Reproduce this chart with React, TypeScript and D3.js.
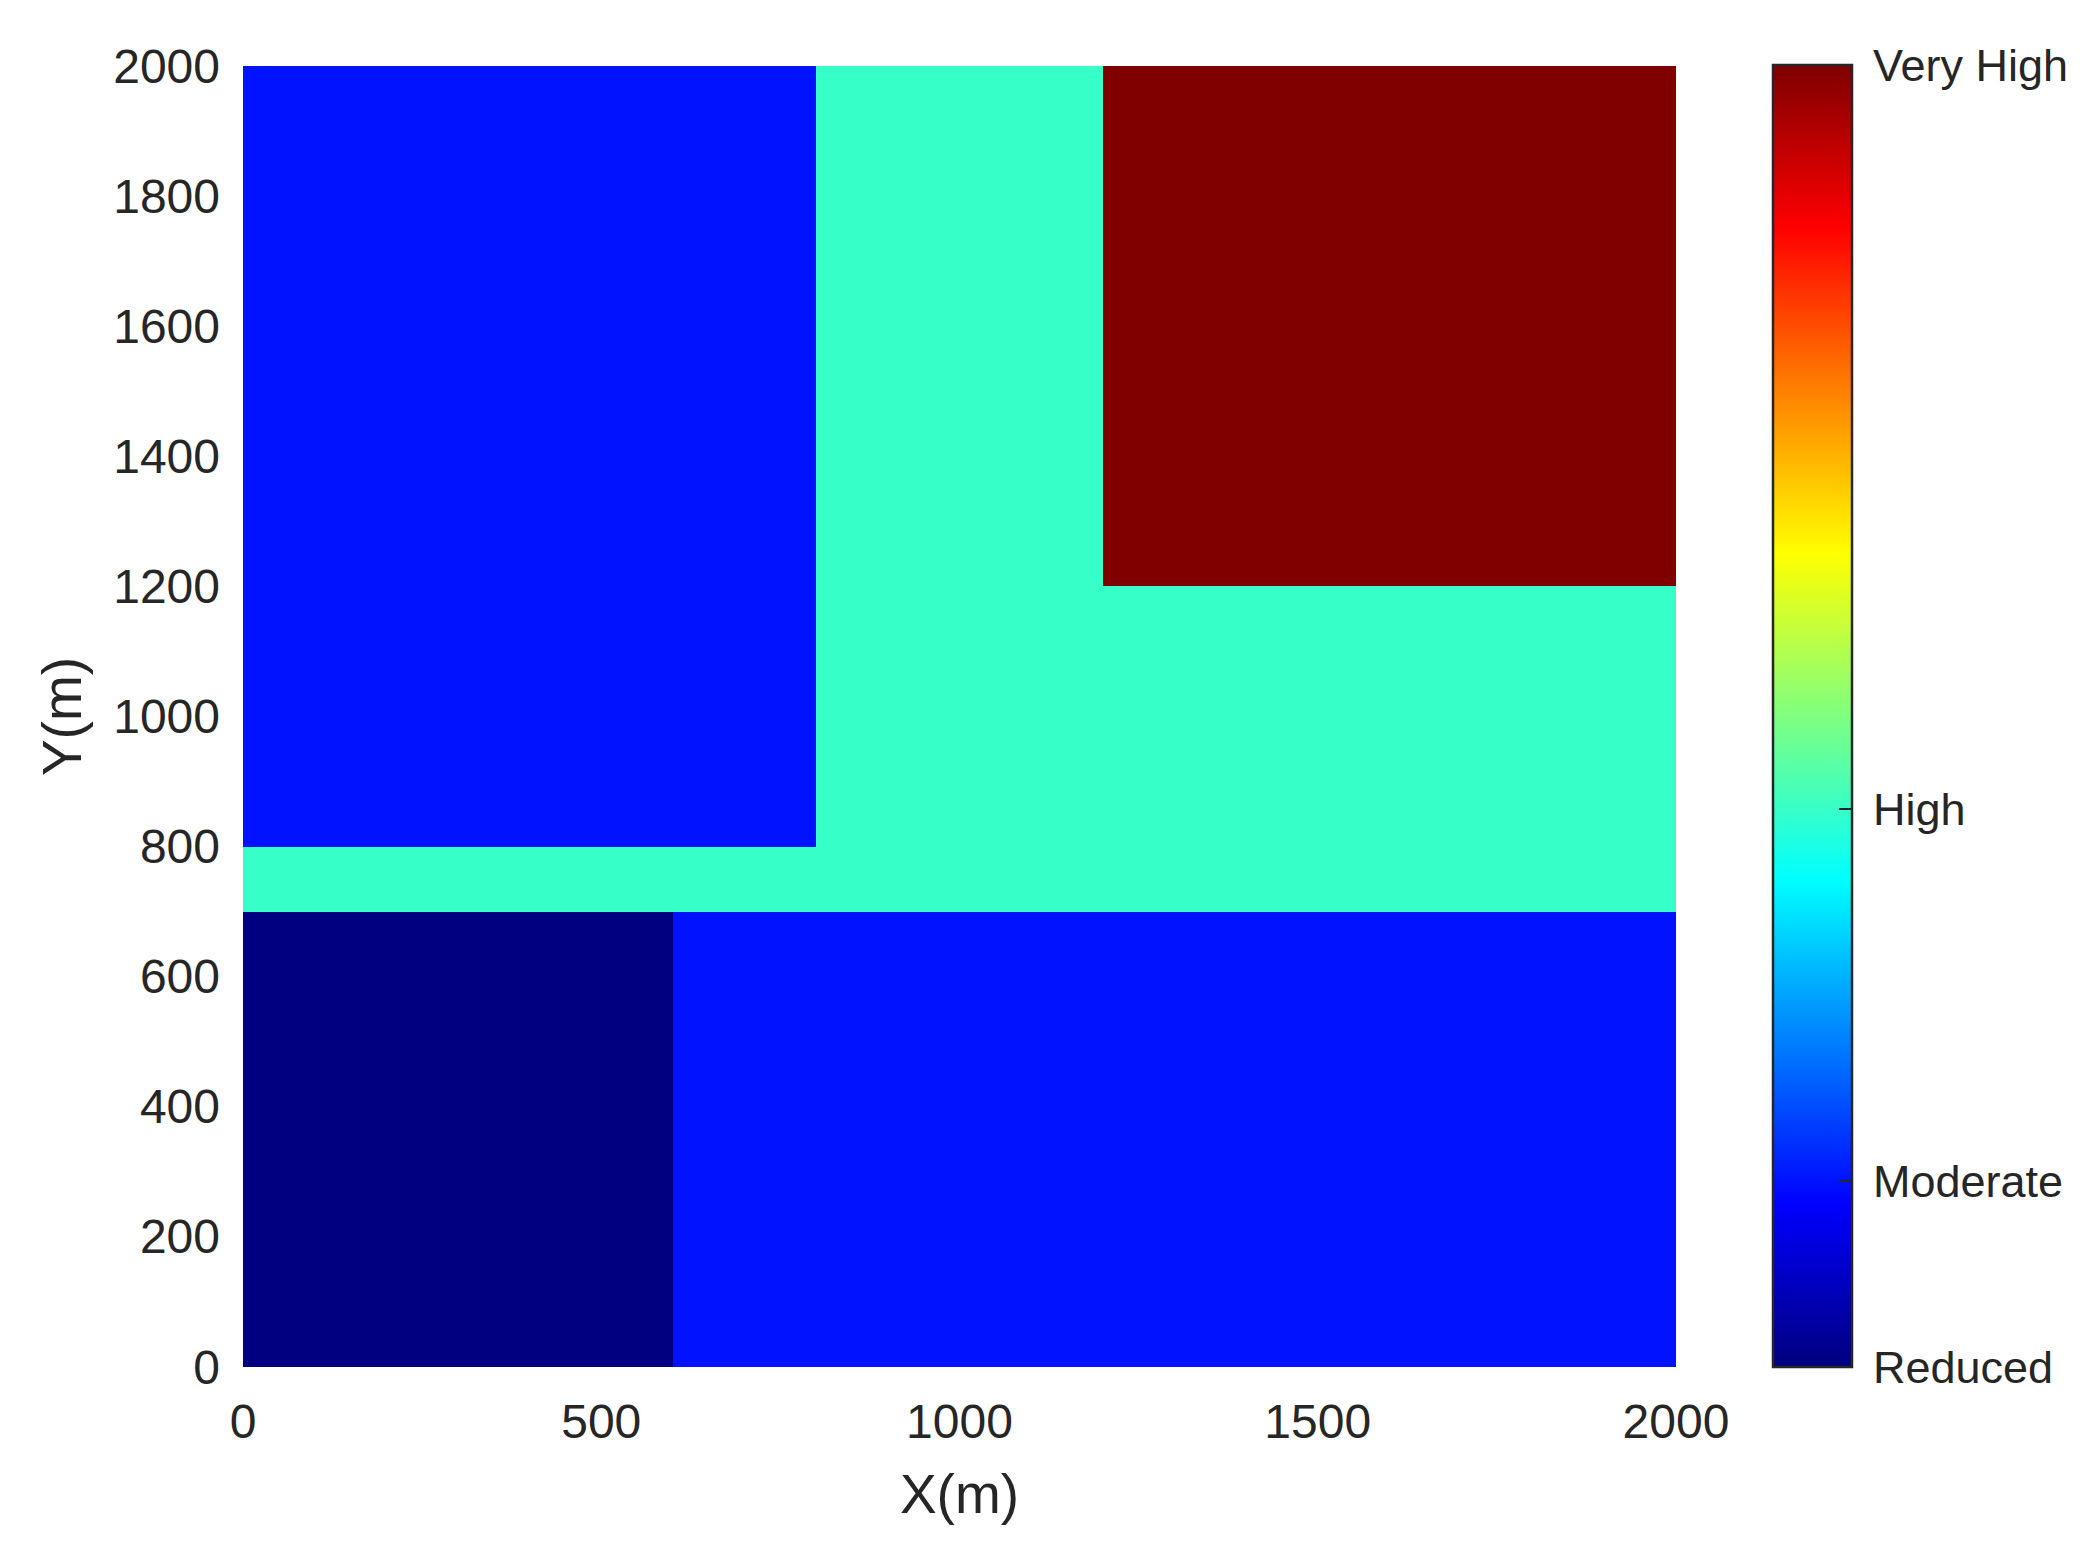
import React from "react";
import * as d3 from "d3";

// Zones of the map (metres) and their hazard level value
const zoneX0 = [0, 600, 0, 0, 800, 1200, 1200];
const zoneX1 = [600, 2000, 800, 2000, 1200, 2000, 2000];
const zoneY0 = [0, 0, 800, 700, 800, 800, 1200];
const zoneY1 = [700, 700, 2000, 800, 2000, 1200, 2000];
const zoneLevel = [1, 2, 2, 4, 4, 4, 8];

const xTicks = [0, 500, 1000, 1500, 2000];
const yTicks = [0, 200, 400, 600, 800, 1000, 1200, 1400, 1600, 1800, 2000];
const levelValues = [1, 2, 4, 8];
const levelLabels = ["Reduced", "Moderate", "High", "Very High"];

function jet(t: number): string {
  const c = (v: number) => Math.round(255 * Math.max(0, Math.min(1, v)));
  const r = c(Math.min(4 * t - 1.5, -4 * t + 4.5));
  const g = c(Math.min(4 * t - 0.5, -4 * t + 3.5));
  const b = c(Math.min(4 * t + 0.5, -4 * t + 2.5));
  return `rgb(${r},${g},${b})`;
}

const W = 2095;
const H = 1550;
const plot = { left: 243, right: 1676, top: 66, bottom: 1367 };
const cbar = { left: 1773, right: 1852, top: 65, bottom: 1367 };
const textColor = "#262626";
const font = "'Liberation Sans', Arial, Helvetica, sans-serif";

export default function App() {
  const x = d3.scaleLinear().domain([0, 2000]).range([plot.left, plot.right]);
  const y = d3.scaleLinear().domain([0, 2000]).range([plot.bottom, plot.top]);
  const tScale = d3.scaleLinear().domain([1, 8]).range([0, 1]);
  const color = (v: number) => jet(tScale(v));
  const cy = d3.scaleLinear().domain([1, 8]).range([cbar.bottom, cbar.top]);

  const stops = d3.range(0, 257).map((i) => i / 256);

  return (
    <svg
      width={W}
      height={H}
      style={{ position: "absolute", left: 0, top: 0, background: "#fff" }}
      fontFamily={font}
    >
      <defs>
        <linearGradient id="jetGrad" x1="0" y1="1" x2="0" y2="0">
          {stops.map((s) => (
            <stop key={s} offset={s} stopColor={jet(s)} />
          ))}
        </linearGradient>
      </defs>
      <rect x={0} y={0} width={W} height={H} fill="#fff" />
      {/* map zones */}
      <g shapeRendering="crispEdges">
        {zoneLevel.map((lv, i) => (
          <rect
            key={i}
            x={x(zoneX0[i])}
            y={y(zoneY1[i])}
            width={x(zoneX1[i]) - x(zoneX0[i])}
            height={y(zoneY0[i]) - y(zoneY1[i])}
            fill={color(lv)}
          />
        ))}
      </g>
      {/* y ticks */}
      {yTicks.map((t) => (
        <text
          key={"y" + t}
          x={plot.left - 23}
          y={y(t)}
          textAnchor="end"
          dominantBaseline="central"
          fontSize={48}
          fill={textColor}
        >
          {t}
        </text>
      ))}
      {/* x ticks */}
      {xTicks.map((t) => (
        <text
          key={"x" + t}
          x={x(t)}
          y={1438}
          textAnchor="middle"
          fontSize={48}
          fill={textColor}
        >
          {t}
        </text>
      ))}
      <text
        x={(plot.left + plot.right) / 2}
        y={1513}
        textAnchor="middle"
        fontSize={55}
        fill={textColor}
      >
        X(m)
      </text>
      <text
        transform={`translate(${81},${(plot.top + plot.bottom) / 2}) rotate(-90)`}
        textAnchor="middle"
        fontSize={55}
        fill={textColor}
      >
        Y(m)
      </text>
      {/* colorbar */}
      <rect
        x={cbar.left}
        y={cbar.top}
        width={cbar.right - cbar.left}
        height={cbar.bottom - cbar.top}
        fill="url(#jetGrad)"
        stroke={textColor}
        strokeWidth={2.5}
      />
      {levelValues.map((v, i) => (
        <g key={"c" + v}>
          <line
            x1={cbar.right - 13}
            x2={cbar.right}
            y1={cy(v)}
            y2={cy(v)}
            stroke={textColor}
            strokeWidth={2}
          />
          <text
            x={1873}
            y={cy(v)}
            dominantBaseline="central"
            fontSize={45}
            fill={textColor}
          >
            {levelLabels[i]}
          </text>
        </g>
      ))}
    </svg>
  );
}
